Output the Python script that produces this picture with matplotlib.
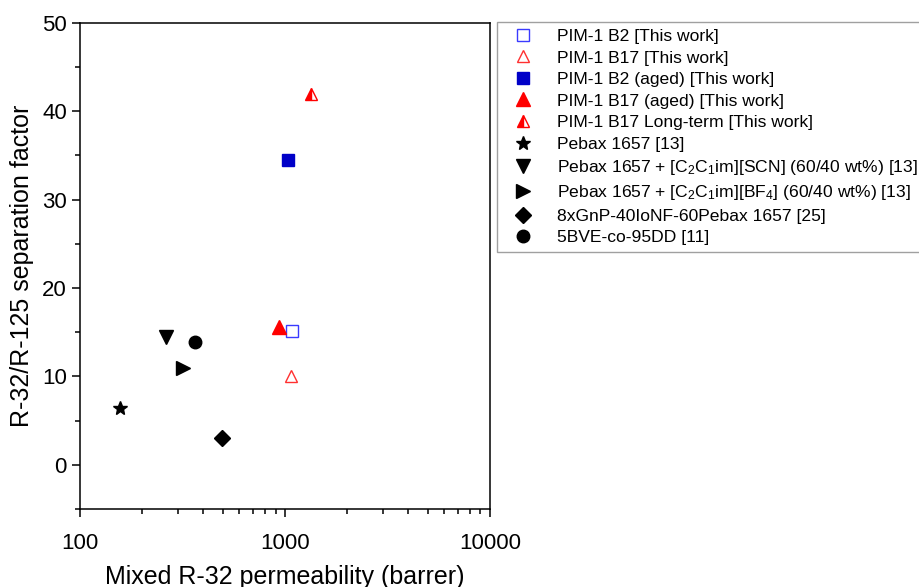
import matplotlib
matplotlib.use("Agg")
import matplotlib.pyplot as plt
from matplotlib.ticker import MultipleLocator, LogLocator, NullFormatter

plt.rcParams['font.family'] = ['Liberation Sans', 'DejaVu Sans']
plt.rcParams['mathtext.fontset'] = 'custom'
plt.rcParams['mathtext.rm'] = 'Liberation Sans'
plt.rcParams['mathtext.it'] = 'Liberation Sans:italic'

# data
labels = [
    "PIM-1 B2 [This work]",
    "PIM-1 B17 [This work]",
    "PIM-1 B2 (aged) [This work]",
    "PIM-1 B17 (aged) [This work]",
    "PIM-1 B17 Long-term [This work]",
    "Pebax 1657 [13]",
    r"Pebax 1657 + [C$_\mathregular{2}$C$_\mathregular{1}$im][SCN] (60/40 wt%) [13]",
    r"Pebax 1657 + [C$_\mathregular{2}$C$_\mathregular{1}$im][BF$_\mathregular{4}$] (60/40 wt%) [13]",
    "8xGnP-40IoNF-60Pebax 1657 [25]",
    "5BVE-co-95DD [11]",
]
permeability = [1082, 1070, 1034, 935, 1340, 157, 263, 318, 493, 364]
selectivity = [15.1, 10.0, 34.5, 15.6, 42.0, 6.4, 14.4, 11.0, 3.0, 13.9]

markers = ['s', '^', 's', '^', '^', '*', 'v', '>', 'D', 'o']
edge = ['#3a3aff', '#ff3030', '#0000c8', '#ff0000', '#ff0000',
        'black', 'black', 'black', 'black', 'black']
face = ['none', 'none', '#0000c8', '#ff0000', '#ff0000',
        'black', 'black', 'black', 'black', 'black']
fill = ['full', 'full', 'full', 'full', 'left', 'full', 'full', 'full', 'full', 'full']
sizes = [8, 9, 8, 9.5, 9, 10, 10, 10, 8, 9]

fig = plt.figure(figsize=(9.19, 5.87), dpi=100)
ax = fig.add_axes([0.087, 0.133, 0.446, 0.828])

for i in range(len(labels)):
    ax.plot([permeability[i]], [selectivity[i]], linestyle='none',
            marker=markers[i], markersize=sizes[i], markeredgecolor=edge[i],
            markerfacecolor=face[i], fillstyle=fill[i],
            markerfacecoloralt='white', markeredgewidth=1.0,
            label=labels[i])

ax.set_xscale('log')
ax.set_xlim(100, 10000)
ax.set_ylim(-5, 50)
ax.yaxis.set_major_locator(MultipleLocator(10))
ax.yaxis.set_minor_locator(MultipleLocator(5))
ax.xaxis.set_minor_locator(LogLocator(base=10, subs=range(2, 10), numticks=20))
ax.xaxis.set_minor_formatter(NullFormatter())
ax.set_xticks([100, 1000, 10000])
ax.set_xticklabels(['100', '1000', '10000'])

ax.tick_params(which='both', direction='out', top=False, right=False,
               labelsize=16, width=1.1)
ax.tick_params(which='major', length=6)
ax.tick_params(which='minor', length=3.5)
ax.tick_params(axis='x', which='major', pad=11)
for s in ax.spines.values():
    s.set_linewidth(1.1)

ax.set_xlabel("Mixed R-32 permeability (barrer)", fontsize=18, labelpad=8)
ax.set_ylabel("R-32/R-125 separation factor", fontsize=18, labelpad=6)

leg = fig.legend(loc='upper left', bbox_to_anchor=(0.541, 0.963),
                 bbox_transform=fig.transFigure, fontsize=12.6,
                 frameon=True, fancybox=False, edgecolor='#888888',
                 handlelength=2.2, handletextpad=0.8, labelspacing=0.36,
                 borderpad=0.4, borderaxespad=0)
leg.get_frame().set_linewidth(1.0)

fig.savefig("out.png", dpi=100)
